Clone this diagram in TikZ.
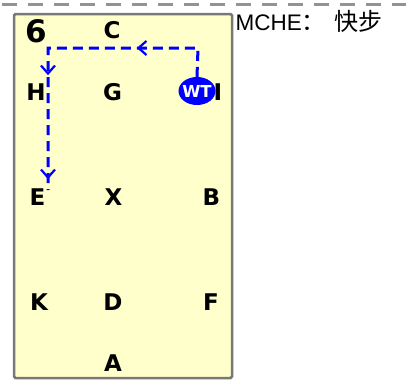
\documentclass[tikz,border=0pt]{standalone}
\usepackage{fontspec}
\usetikzlibrary{arrows.meta, shapes.geometric, decorations.markings}
\newfontfamily\letterfont{DejaVu Sans}
\newfontfamily\labelfont{Liberation Sans}
\newfontfamily\cjkfont{Noto Sans CJK SC}
\definecolor{arenafill}{RGB}{255,255,204}
\definecolor{arenaedge}{RGB}{120,120,120}
\tikzset{
  letter/.style={inner sep=0pt, font=\letterfont\bfseries\fontsize{23}{23}\selectfont},
  route/.style={blue, line width=3pt, dash pattern=on 10pt off 6pt},
  barb/.tip={Straight Barb[length=8pt, width=14pt, line width=2.2pt]}
}
\begin{document}
\begin{tikzpicture}[x=1pt, y=-1pt]
    \useasboundingbox (0,0) rectangle (406,380);
    % Top rule
    \draw[arenaedge!80, line width=3.5pt, dash pattern=on 15pt off 11pt] (2,4.5) -- (406,4.5);
    % Arena
    \draw[fill=arenafill, draw=arenaedge, line width=2.5pt, rounded corners=1.5pt] (14,14) rectangle (232,378);

    \node[inner sep=0pt, font=\letterfont\bfseries\fontsize{31}{31}\selectfont] (num) at (36.5,31) {6};
    \node[letter] (C) at (112,30) {C};
    \node[letter] (H) at (36,92) {H};
    \node[letter] (G) at (112.5,92) {G};
    \node[letter] (I) at (218,92) {I};
    \node[letter] (E) at (37.5,197) {E};
    \node[letter] (X) at (113.5,197) {X};
    \node[letter] (B) at (211.5,197) {B};
    \node[letter] (K) at (39,302) {K};
    \node[letter] (D) at (113,302) {D};
    \node[letter] (F) at (211,302) {F};
    \node[letter] (A) at (113,363) {A};

    % Rider
    \node[ellipse, fill=blue, minimum width=37pt, minimum height=28pt, inner sep=-5pt,
      text=white, font=\letterfont\bfseries\fontsize{16.5}{16.5}\selectfont] (wt) at (197,91) {WT};

    % Route
    \coordinate (rtop) at (198,48);
    \coordinate (ltop) at (48,48);
    \coordinate (eend) at (48,190);
    \draw[route, postaction={decorate}, decoration={markings,
        mark=at position 90pt with {\arrow{barb}},
        mark=at position 206pt with {\arrow{barb}},
        mark=at position 310pt with {\arrow{barb}}}]
      (wt.north) -- (rtop) -- (ltop) -- (eend);

    % Caption
    \node[anchor=base west, inner sep=0pt] (cap) at (235.5,30.5)
      {\labelfont\fontsize{22.5}{22.5}\selectfont MCHE\cjkfont\fontsize{24}{24}\selectfont：\hspace{9pt}快步};
\end{tikzpicture}
\end{document}
